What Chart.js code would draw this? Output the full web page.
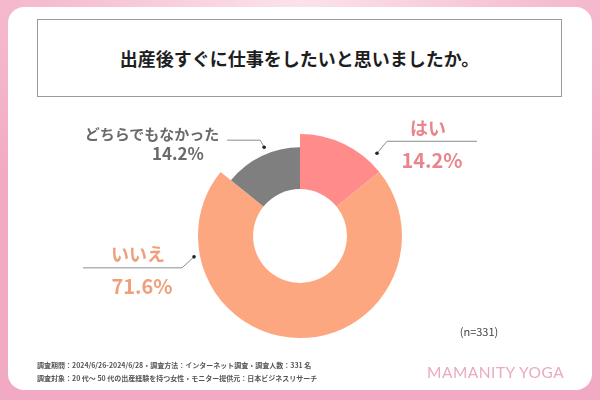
<!DOCTYPE html>
<html>
<head>
<meta charset="utf-8">
<script src="https://cdn.jsdelivr.net/npm/chart.js@4"></script>
<style>
  html,body{margin:0;padding:0;}
  body{width:600px;height:400px;position:relative;overflow:hidden;
    background:radial-gradient(ellipse 70% 60% at 50% 0%, #fbe3ea 0%, #f6bfd2 55%, #f2aac4 100%);
    font-family:"Noto Sans CJK JP","Noto Sans",sans-serif;}
  #card{position:absolute;left:8px;top:7px;width:584px;height:383px;background:#fff;border-radius:16px;}
  #titleBox{position:absolute;left:37px;top:19px;width:523px;height:76px;border:1px solid #9a9a9a;background:#fff;
    display:flex;align-items:center;justify-content:center;font-size:18px;font-weight:bold;color:#1e1e1e;}
  canvas{position:absolute;left:0;top:0;}
  .lbl{position:absolute;transform:translate(-50%,-50%);font-weight:bold;white-space:nowrap;line-height:1;}
  #n{position:absolute;left:479px;top:331px;transform:translate(-50%,-50%);font-size:11px;color:#444;}
  .foot{position:absolute;left:37px;font-size:7px;color:#555;font-weight:bold;white-space:nowrap;}
  #logo{position:absolute;left:427px;top:363px;font-family:"Lato","DejaVu Sans",sans-serif;font-size:15.5px;color:#e9aac0;letter-spacing:0.5px;}
</style>
</head>
<body>
<div id="card"></div>
<div id="titleBox">出産後すぐに仕事をしたいと思いましたか。</div>
<canvas id="pie" width="600" height="400"></canvas>
<div id="labels"></div>
<div id="n">(n=331)</div>
<div class="foot" style="top:360px">調査期間：2024/6/26-2024/6/28・調査方法：インターネット調査・調査人数：331 名</div>
<div class="foot" style="top:373px">調査対象：20 代～ 50 代の出産経験を持つ女性・モニター提供元：日本ビジネスリサーチ</div>
<div id="logo">MAMANITY YOGA</div>
<script>
// ================= DATA =================
const categories = ["はい", "いいえ", "どちらでもなかった"];
const values = [14.2, 71.6, 14.2];
const sliceColors = ["#ff8b8b", "#fda781", "#7f7f7f"];
const textColors = ["#e8868c", "#efa07b", "#6b6b6b"];

// ring thickness per slice (grey one is drawn thinner)
const thickness = [1, 1, 0.76];

// leader: where on the arc, how far out, elbow offset, horizontal run
const leaders = [
  {frac:0.84,  gap:11, elbow:[10,-12], run:90},
  {frac:0.806, gap:6,  elbow:[-12,11], run:-99},
  {frac:0.57,  gap:7,  elbow:[-4,-7],  run:-33}
];

// label boxes (center x/y for name and value)
const labelPos = [
  {nx:428, ny:127, vx:432, vy:160, ns:18, vs:20},
  {nx:138, ny:253, vx:142, vy:286, ns:18, vs:20},
  {nx:152, ny:133, vx:178, vy:152, ns:15, vs:17}
];

// ================= LABELS =================
const $ = id => document.getElementById(id);
categories.forEach((c,i)=>{
  const p = labelPos[i];
  $("labels").innerHTML +=
    `<div class="lbl" style="left:${p.nx}px;top:${p.ny}px;font-size:${p.ns}px;color:${textColors[i]}">${c}</div>`+
    `<div class="lbl" style="left:${p.vx}px;top:${p.vy}px;font-size:${p.vs}px;color:${textColors[i]}">${values[i].toFixed(1)}%</div>`;
});

// ================= PLUGIN =================
const ringPlugin = {
  id:"ring",
  beforeDatasetDraw(chart){
    const meta = chart.getDatasetMeta(0), ctrl = meta.controller;
    meta.data.forEach((arc,i)=>{
      arc.outerRadius = ctrl.innerRadius + (ctrl.outerRadius-ctrl.innerRadius)*thickness[i];
    });
  },
  afterDatasetsDraw(chart){
    const ctx = chart.ctx;
    chart.getDatasetMeta(0).data.forEach((arc,i)=>{
      const L = leaders[i];
      const a = arc.startAngle + (arc.endAngle-arc.startAngle)*L.frac;
      const r = arc.outerRadius + L.gap;
      const dx = arc.x + Math.cos(a)*r, dy = arc.y + Math.sin(a)*r;
      const ex = dx + L.elbow[0], ey = dy + L.elbow[1];
      ctx.save();
      ctx.strokeStyle = "#8c8c8c"; ctx.lineWidth = 1;
      ctx.beginPath(); ctx.moveTo(dx,dy); ctx.lineTo(ex,ey); ctx.lineTo(ex+L.run,ey); ctx.stroke();
      ctx.fillStyle = "#222";
      ctx.beginPath(); ctx.arc(dx,dy,1.8,0,Math.PI*2); ctx.fill();
      ctx.restore();
    });
  }
};

// ================= CHART =================
new Chart($("pie"),{
  type:"doughnut",
  data:{labels:categories, datasets:[{data:values, backgroundColor:sliceColors, borderWidth:0}]},
  options:{
    responsive:false, animation:false, devicePixelRatio:1, cutout:"46%",
    layout:{padding:{left:198,right:198,top:134,bottom:62}},
    plugins:{legend:{display:false}, tooltip:{enabled:false}}
  },
  plugins:[ringPlugin]
});
</script>
</body>
</html>
